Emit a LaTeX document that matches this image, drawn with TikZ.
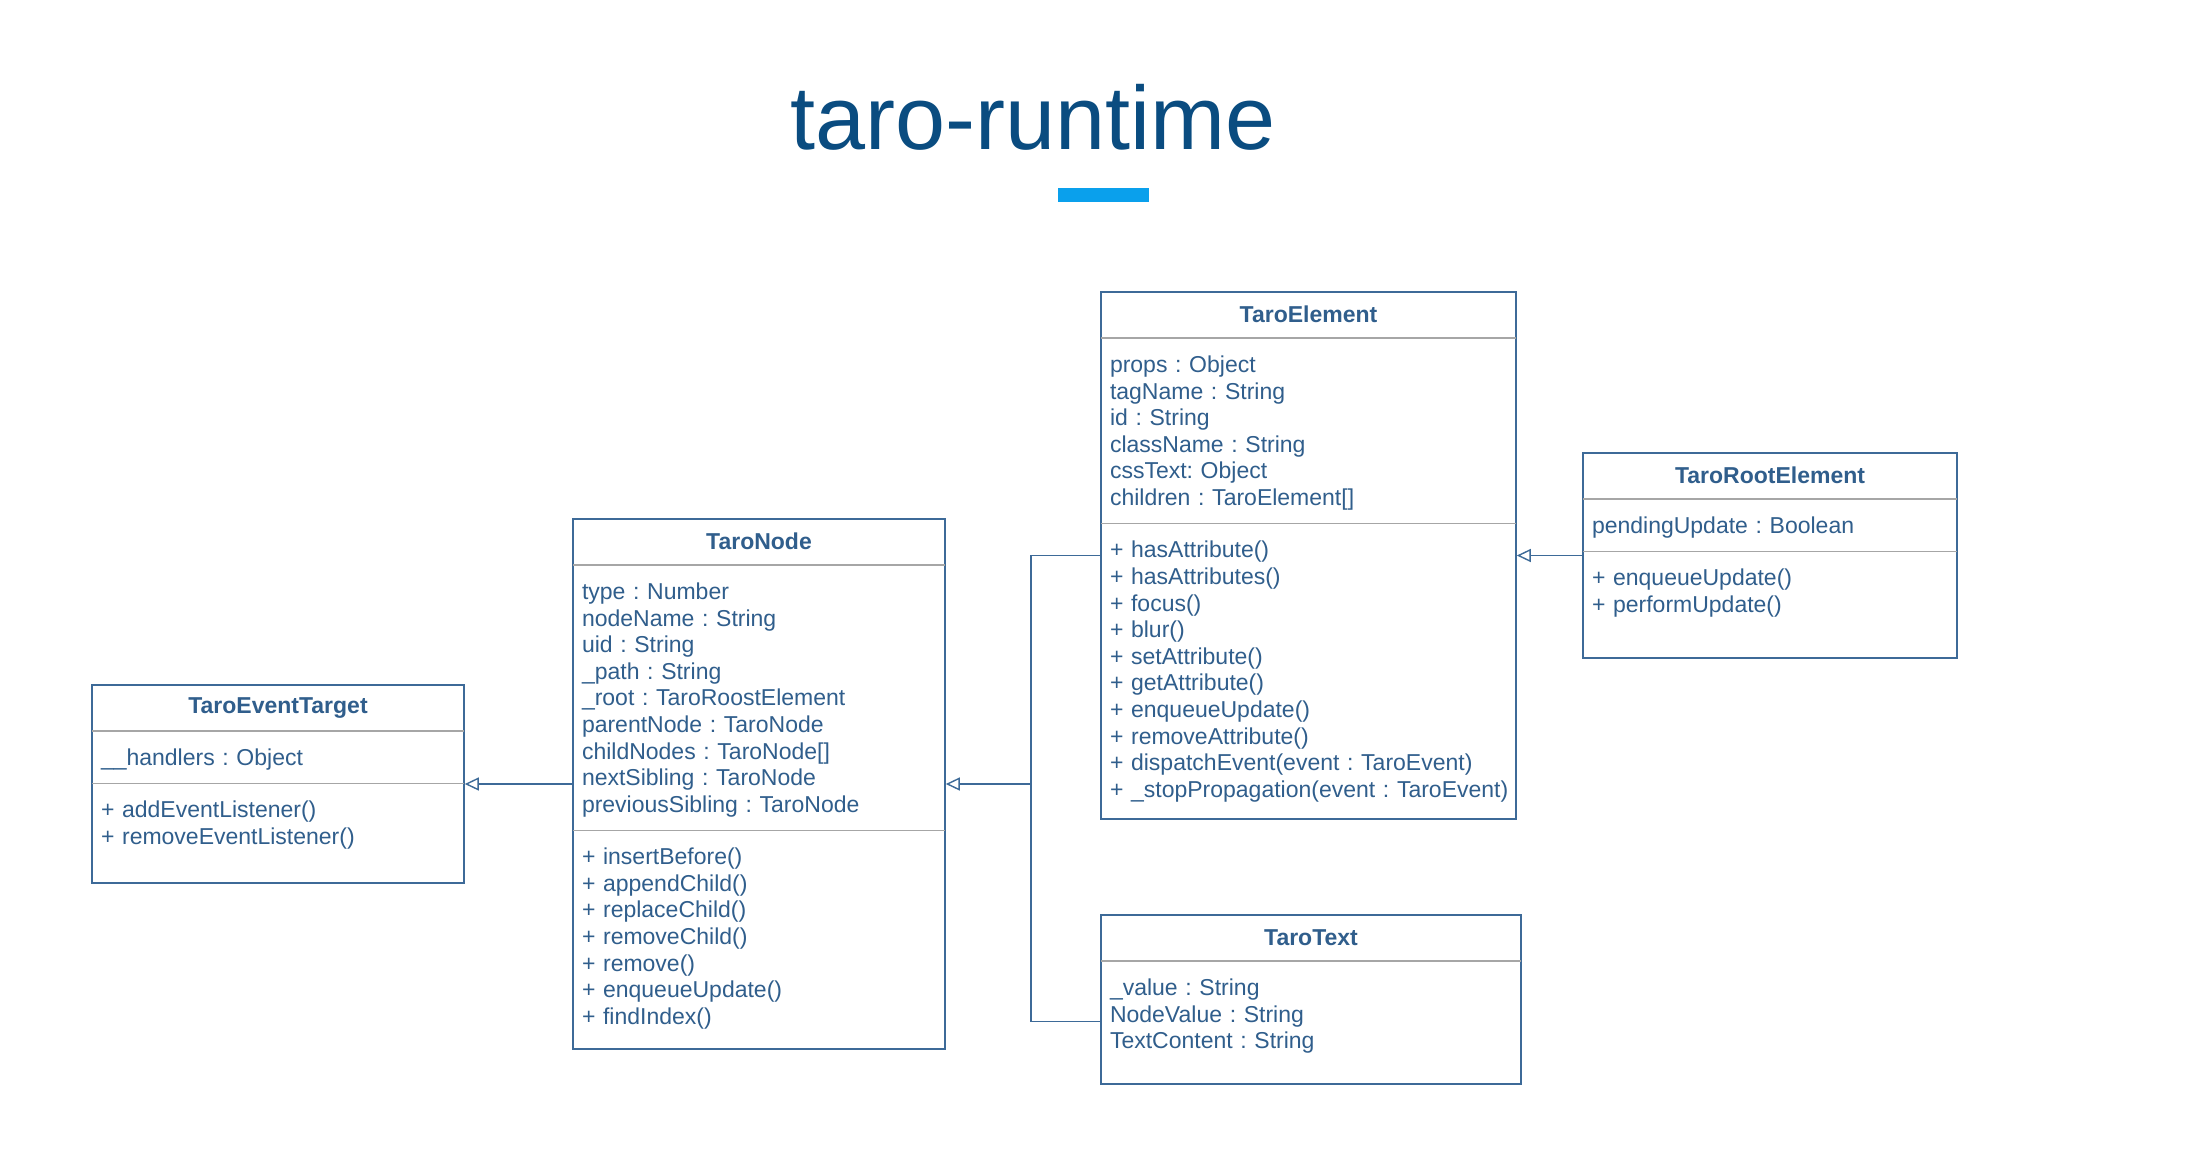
\documentclass[tikz,border=0pt]{standalone}
\usepackage{fontspec}
\setmainfont{Liberation Sans}
\usetikzlibrary{arrows.meta, positioning, calc}
\definecolor{titleBlue}{HTML}{0A4C80}
\definecolor{barBlue}{HTML}{0AA0EC}
\definecolor{umlBlue}{HTML}{3D6A98}
\definecolor{umlText}{HTML}{305E8C}
\definecolor{sepGray}{HTML}{A6A6A6}
\frenchspacing

\begin{document}
\begin{tikzpicture}[
  x=0.5pt, y=-0.5pt,
  cls/.style={draw=umlBlue, line width=0.8pt, inner sep=0},
  head/.style={minimum height=23pt, inner sep=0, text=umlText, font=\fontsize{11.5pt}{13.3pt}\selectfont\bfseries},
  part/.style={inner xsep=4.5pt, inner ysep=6.25pt, text width=220pt, align=left, text=umlText, font=\fontsize{11.5pt}{13.3pt}\selectfont,
    execute at begin node={\rule[-2.5pt]{0pt}{13.3pt}}, execute at end node={\rule[-2.5pt]{0pt}{13.3pt}}},
  divider/.style={draw=sepGray, line width=0.7pt, shorten <=0.4pt, shorten >=0.4pt},
  link/.style={draw=umlBlue, line width=0.7pt},
  inherit/.style={link, -{Triangle[open, length=7pt, width=6.5pt]}},
]
  \fill[white] (0,0) rectangle (2196,1162);
  \useasboundingbox (0,0) rectangle (2196,1162);

  \node[font=\fontsize{45pt}{54pt}\selectfont, text=titleBlue, anchor=base, inner sep=0] (title) at (1033,149) {taro-runtime};
  \node[fill=barBlue, minimum width=45.5pt, minimum height=7pt, inner sep=0] (bar) at (1103.5,195) {};

  % TaroEventTarget
  \node[cls, minimum width=186pt, minimum height=99pt] (evt) at (278,784) {};
  \node[head, minimum width=186pt, below=0pt of evt.north] (evt-h) {TaroEventTarget};
  \node[part, below right=0pt and 0pt of evt-h.south west] (evt-a) {\_\_handlers : Object};
  \node[part, below right=0pt and 0pt of evt-a.south west] (evt-m) {+ addEventListener()\\+ removeEventListener()};
  \draw[divider] (evt-h.south west) -- (evt-h.south east);
  \draw[divider] (evt-a.south -| evt.west) -- (evt-a.south -| evt.east);

  % TaroNode
  \node[cls, minimum width=186pt, minimum height=265pt] (tnode) at (759,784) {};
  \node[head, minimum width=186pt, below=0pt of tnode.north] (tnode-h) {TaroNode};
  \node[part, below right=0pt and 0pt of tnode-h.south west] (tnode-a) {type : Number\\nodeName : String\\uid : String\\\_path : String\\\_root : TaroRoostElement\\parentNode : TaroNode\\childNodes : TaroNode[]\\nextSibling : TaroNode\\previousSibling : TaroNode};
  \node[part, below right=0pt and 0pt of tnode-a.south west] (tnode-m) {+ insertBefore()\\+ appendChild()\\+ replaceChild()\\+ removeChild()\\+ remove()\\+ enqueueUpdate()\\+ findIndex()};
  \draw[divider] (tnode-h.south west) -- (tnode-h.south east);
  \draw[divider] (tnode-a.south -| tnode.west) -- (tnode-a.south -| tnode.east);

  % TaroElement
  \node[cls, minimum width=207.5pt, minimum height=263.5pt] (elem) at (1308.5,555.5) {};
  \node[head, minimum width=207.5pt, below=0pt of elem.north] (elem-h) {TaroElement};
  \node[part, below right=0pt and 0pt of elem-h.south west] (elem-a) {props : Object\\tagName : String\\id : String\\className : String\\cssText: Object\\children : TaroElement[]};
  \node[part, below right=0pt and 0pt of elem-a.south west] (elem-m) {+ hasAttribute()\\+ hasAttributes()\\+ focus()\\+ blur()\\+ setAttribute()\\+ getAttribute()\\+ enqueueUpdate()\\+ removeAttribute()\\+ dispatchEvent(event : TaroEvent)\\+ \_stopPropagation(event : TaroEvent)};
  \draw[divider] (elem-h.south west) -- (elem-h.south east);
  \draw[divider] (elem-a.south -| elem.west) -- (elem-a.south -| elem.east);

  % TaroRootElement
  \node[cls, minimum width=187pt, minimum height=102.5pt] (root) at (1770,555.5) {};
  \node[head, minimum width=187pt, below=0pt of root.north] (root-h) {TaroRootElement};
  \node[part, below right=0pt and 0pt of root-h.south west] (root-a) {pendingUpdate : Boolean};
  \node[part, below right=0pt and 0pt of root-a.south west] (root-m) {+ enqueueUpdate()\\+ performUpdate()};
  \draw[divider] (root-h.south west) -- (root-h.south east);
  \draw[divider] (root-a.south -| root.west) -- (root-a.south -| root.east);

  % TaroText
  \node[cls, minimum width=210pt, minimum height=84.5pt] (txt) at (1311,999.5) {};
  \node[head, minimum width=210pt, below=0pt of txt.north] (txt-h) {TaroText};
  \node[part, below right=0pt and 0pt of txt-h.south west] (txt-a) {\_value : String\\NodeValue : String\\TextContent : String};
  \draw[divider] (txt-h.south west) -- (txt-h.south east);

  % inheritance
  \coordinate (join) at ([xshift=42.5pt]tnode.east);
  \coordinate (txt-in) at ([yshift=-11pt]txt.west);
  \draw[inherit] (tnode.west) -- (evt.east);
  \draw[inherit] (root.west) -- (elem.east);
  \draw[link] (elem.west) -| (join) |- (txt-in);
  \draw[inherit] (join) -- (tnode.east);
\end{tikzpicture}
\end{document}
